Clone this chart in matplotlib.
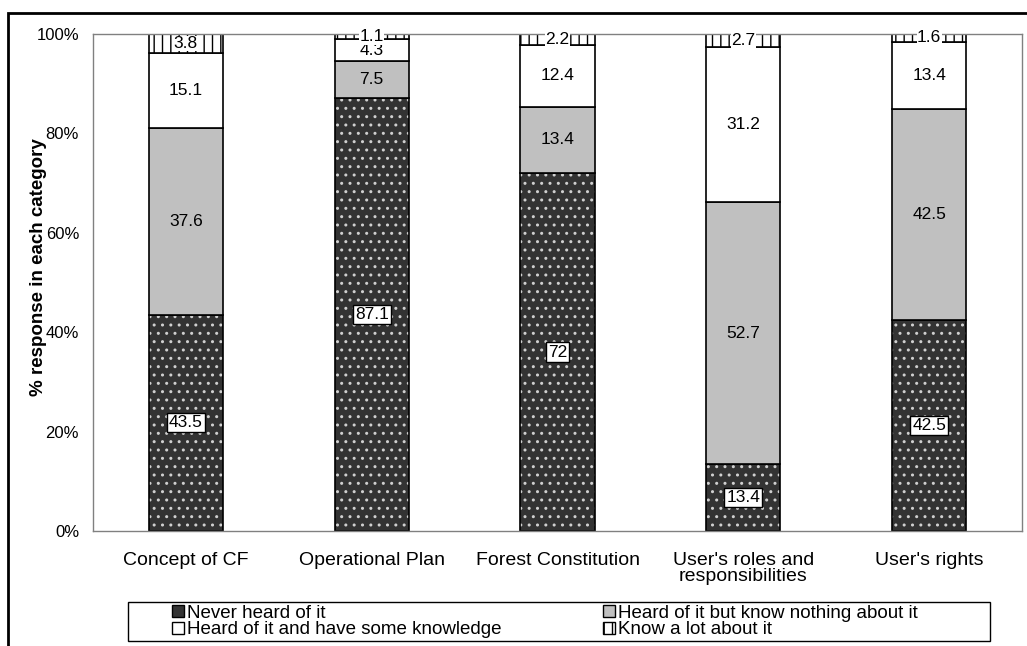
import numpy as np
import matplotlib
matplotlib.use("Agg")
import matplotlib.pyplot as plt
from matplotlib.patches import Patch, Rectangle
from matplotlib.ticker import PercentFormatter

plt.rcParams['font.family'] = ['Liberation Sans', 'DejaVu Sans']
plt.rcParams['hatch.linewidth'] = 1.0

categories = ["Concept of CF", "Operational Plan", "Forest Constitution",
              "User's roles and\nresponsibilities", "User's rights"]
never_heard = [43.5, 87.1, 72, 13.4, 42.5]
heard_nothing = [37.6, 7.5, 13.4, 52.7, 42.5]
some_knowledge = [15.1, 4.3, 12.4, 31.2, 13.4]
know_a_lot = [3.8, 1.1, 2.2, 2.7, 1.6]
series_names = ["Never heard of it", "Heard of it but know nothing about it",
                "Heard of it and have some knowledge", "Know a lot about it"]

dark = "#333333"
grey = "#c0c0c0"
W, H = 1027, 646

fig = plt.figure(figsize=(W / 100, H / 100), dpi=100)
ax = fig.add_axes([93 / W, 1 - 531 / H, 929 / W, 497 / H])

x = np.arange(len(categories))
w = 0.4
never = np.array(never_heard)
nothing = np.array(heard_nothing)
some = np.array(some_knowledge)
lot = np.array(know_a_lot)

# dotted dark segment: hatch layer first, outline on top
ax.bar(x, never, w, color=dark, edgecolor="#d0d0d0", hatch="..", linewidth=0)
ax.bar(x, never, w, fill=False, edgecolor="black", linewidth=1.2)
ax.bar(x, nothing, w, bottom=never, color=grey, edgecolor="black", linewidth=1.2)
ax.bar(x, some, w, bottom=never + nothing, color="white", edgecolor="black", linewidth=1.2)
ax.bar(x, lot, w, bottom=never + nothing + some, color="white", edgecolor="black",
       hatch="||", linewidth=1.2)

fs = 12.5
for i in range(len(categories)):
    ax.text(x[i], never[i] / 2, f"{never_heard[i]:g}", ha="center", va="center", fontsize=fs,
            bbox=dict(boxstyle="square,pad=0.12", fc="white", ec="black", lw=1))
    ax.text(x[i], never[i] + nothing[i] / 2, f"{heard_nothing[i]:g}", ha="center",
            va="center", fontsize=fs)
    ax.text(x[i], never[i] + nothing[i] + some[i] / 2, f"{some_knowledge[i]:g}",
            ha="center", va="center", fontsize=fs)
    ax.text(x[i], 100 - lot[i] / 2, f"{know_a_lot[i]:g}", ha="center", va="center",
            fontsize=fs, bbox=dict(boxstyle="square,pad=0.02", fc="white", ec="none"))

ax.set_xlim(-0.5, len(categories) - 0.5)
ax.set_ylim(0, 100)
ax.set_yticks(np.arange(0, 101, 20))
ax.yaxis.set_major_formatter(PercentFormatter(decimals=0))
ax.set_xticks(x)
ax.set_xticklabels(categories, fontsize=14, linespacing=0.9)
ax.tick_params(axis="both", length=0)
ax.tick_params(axis="y", labelsize=12, pad=10)
ax.tick_params(axis="x", pad=15)
for s in ax.spines.values():
    s.set_color("#808080")
    s.set_linewidth(1)
ax.set_ylabel("% response in each category", fontsize=13.5, fontweight="bold")
ax.yaxis.set_label_coords(-0.05, 0.53)

# legend: two columns placed separately, one shared frame
col1 = [Patch(facecolor=dark, edgecolor="black", label=series_names[0]),
        Patch(facecolor="white", edgecolor="black", label=series_names[2])]
col2 = [Patch(facecolor=grey, edgecolor="black", label=series_names[1]),
        Patch(facecolor="white", edgecolor="black", hatch="||", label=series_names[3])]
yc = 1 - 621.5 / H
for handles, x0 in [(col1, 172), (col2, 603)]:
    fig.legend(handles=handles, loc="center left", bbox_to_anchor=(x0 / W, yc),
               fontsize=13.5, frameon=False, handlelength=0.65, handleheight=0.65,
               handletextpad=0.15, labelspacing=0, borderpad=0, borderaxespad=0)
fig.patches.append(Rectangle((128 / W, 1 - 641 / H), 862 / W, 39 / H,
                             transform=fig.transFigure, fill=False,
                             edgecolor="black", linewidth=1))

# outer frame
fig.patches.append(Rectangle((8 / W, -0.1), 1.2, 1 - 13 / H + 0.1, transform=fig.transFigure,
                             fill=False, edgecolor="black", linewidth=2))

fig.savefig("out.png", dpi=100)
